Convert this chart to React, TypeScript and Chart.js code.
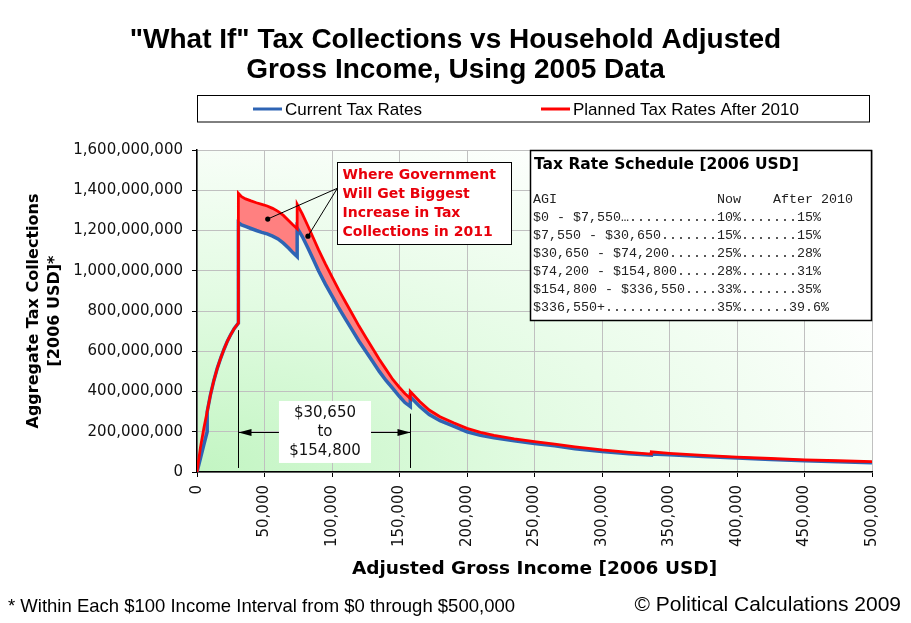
import React, { useEffect, useRef } from 'react';
import { Chart, registerables } from 'chart.js';

Chart.register(...registerables);

// ---------------- DATA ----------------
// Adjusted gross income (2006 USD); repeated values mark bracket jumps
const incomes = [
  0, 2500, 5000, 7550, 7550, 10000, 12500, 15000, 17500, 20000, 22500, 25000, 27500, 30650,
  30650, 33000, 36000, 40000, 44000, 48000, 52000, 56000, 60000, 64000, 68000, 71000, 74200,
  74200, 78000, 82000, 86000, 90000, 95000, 100000, 105000, 110000, 115000, 120000, 125000,
  130000, 135000, 140000, 145000, 150000, 154000, 158000,
  158000, 165000, 172000, 180000, 190000, 200000, 210000, 220000, 235000, 250000, 265000,
  280000, 300000, 320000, 336550,
  336550, 350000, 375000, 400000, 425000, 450000, 475000, 500000,
];

// Aggregate tax collections, millions of 2006 USD
const currentTaxRates = [
  0, 67, 134, 200, 300, 385, 455, 515, 565, 610, 650, 683, 712, 740,
  1239, 1228, 1220, 1210, 1200, 1191, 1183, 1172, 1158, 1137, 1112, 1090, 1070,
  1212, 1170, 1115, 1058, 1000, 935, 875, 815, 760, 705, 650, 600,
  550, 500, 455, 415, 375, 345, 325,
  374, 325, 285, 255, 228, 200, 182, 170, 155, 142, 130,
  116, 102, 91, 84,
  90, 86, 77, 69, 62, 56, 51, 46,
];

const plannedTaxRates = [
  0, 120, 215, 300, 300, 385, 455, 515, 565, 610, 650, 683, 712, 740,
  1385, 1368, 1357, 1347, 1338, 1330, 1322, 1310, 1295, 1275, 1248, 1228, 1208,
  1330, 1283, 1225, 1165, 1105, 1035, 970, 905, 845, 785, 725, 670,
  615, 560, 510, 460, 420, 390, 365,
  400, 350, 308, 275, 245, 217, 197, 182, 165, 151, 138,
  125, 110, 98, 89,
  100, 93, 83, 74, 67, 60, 56, 52,
];

const xTickValues = [0, 50000, 100000, 150000, 200000, 250000, 300000, 350000, 400000, 450000, 500000];
const yTickValues = [0, 200e6, 400e6, 600e6, 800e6, 1000e6, 1200e6, 1400e6, 1600e6];

const seriesLabels = ['Current Tax Rates', 'Planned Tax Rates After 2010'];
const titleLines = ['"What If" Tax Collections vs Household Adjusted', 'Gross Income, Using 2005 Data'];
const yTitleLines = ['Aggregate Tax Collections', '[2006 USD]*'];
const xTitle = 'Adjusted Gross Income [2006 USD]';
const footNote = '* Within Each $100 Income Interval from $0 through $500,000';
const credit = '\u00A9 Political Calculations 2009';

const calloutLines = ['Where Government', 'Will Get Biggest', 'Increase in Tax', 'Collections in 2011'];
const rangeLabelLines = ['$30,650', 'to', '$154,800'];
const scheduleTitle = 'Tax Rate Schedule [2006 USD]';
const scheduleHeader = ['AGI', 'Now    After 2010'];
const scheduleRows = [
  ['$0 - $7,550\u2026', '10%.......15%'],
  ['$7,550 - $30,650', '15%.......15%'],
  ['$30,650 - $74,200', '25%.......28%'],
  ['$74,200 - $154,800', '28%.......31%'],
  ['$154,800 - $336,550', '33%.......35%'],
  ['$336,550+', '35%......39.6%'],
];

// annotation anchors (data coordinates)
const calloutBox = { x0: 104000, x1: 232500, yTop: 1542e6, yBottom: 1131e6 };
const calloutAnchor = { x: 104000, y: 1410e6 };
const calloutDots = [
  { x: 52400, y: 1257e6 },
  { x: 82200, y: 1172e6 },
];
const rangeLeft = { x: 30650, yLow: 20e6, yHigh: 705e6 };
const rangeRight = { x: 158000, yLow: 20e6, yHigh: 290e6 };
const rangeArrowLevel = 200e6;
const rangeBox = { x0: 60700, x1: 128900, yTop: 353e6, yBottom: 45e6 };
const scheduleBox = { x0: 246800, yBottom: 755e6 };

const BLUE = '#2E64B4';
const RED = '#FF0000';
const fmt = (v: number) => Math.round(v).toLocaleString('en-US');

const decorPlugin = {
  id: 'decor',
  beforeDraw(chart: any) {
    const { ctx, chartArea: a } = chart;
    ctx.save();
    ctx.fillStyle = '#ffffff';
    ctx.fillRect(0, 0, chart.width, chart.height);
    ctx.translate(a.left, a.bottom);
    ctx.scale(1, 0.5);
    const g = ctx.createRadialGradient(0, 0, 0, 0, 0, 760);
    g.addColorStop(0, '#c2f5c2');
    g.addColorStop(0.45, '#e2fbe2');
    g.addColorStop(1, '#ffffff');
    ctx.fillStyle = g;
    ctx.fillRect(0, -a.height * 2, a.width, a.height * 2);
    ctx.restore();
  },
  afterDraw(chart: any) {
    const { ctx, chartArea: a } = chart;
    const xs = chart.scales.x;
    const ys = chart.scales.y;
    const px = (v: number) => xs.getPixelForValue(v);
    const py = (v: number) => ys.getPixelForValue(v);
    const W = chart.width;
    ctx.save();

    // Title
    ctx.fillStyle = '#000';
    ctx.textAlign = 'center';
    ctx.textBaseline = 'alphabetic';
    ctx.font = 'bold 28px "Liberation Sans", Arial, sans-serif';
    ctx.fillText(titleLines[0], W / 2, 48);
    ctx.fillText(titleLines[1], W / 2, 78);

    // Legend
    ctx.fillStyle = '#fff';
    ctx.fillRect(197.5, 95.5, 672, 26.5);
    ctx.strokeStyle = '#000';
    ctx.lineWidth = 1;
    ctx.strokeRect(197.5, 95.5, 672, 26.5);
    ctx.lineWidth = 3;
    ctx.strokeStyle = BLUE;
    ctx.beginPath(); ctx.moveTo(253, 109); ctx.lineTo(282, 109); ctx.stroke();
    ctx.strokeStyle = RED;
    ctx.beginPath(); ctx.moveTo(541, 109); ctx.lineTo(570, 109); ctx.stroke();
    ctx.fillStyle = '#000';
    ctx.textAlign = 'left';
    ctx.font = '17px "Liberation Sans", Arial, sans-serif';
    ctx.fillText(seriesLabels[0], 285, 115);
    ctx.fillText(seriesLabels[1], 573, 115);

    // Axis titles
    ctx.font = 'bold 16px "DejaVu Sans", Verdana, sans-serif';
    ctx.textAlign = 'center';
    ctx.textBaseline = 'middle';
    const yc = (a.top + a.bottom) / 2;
    ctx.save();
    ctx.translate(34, yc);
    ctx.rotate(-Math.PI / 2);
    ctx.fillText(yTitleLines[0], 0, 0);
    ctx.restore();
    ctx.save();
    ctx.translate(55, yc);
    ctx.rotate(-Math.PI / 2);
    ctx.fillText(yTitleLines[1], 0, 0);
    ctx.restore();
    ctx.font = 'bold 18.5px "DejaVu Sans", Verdana, sans-serif';
    ctx.fillText(xTitle, (a.left + a.right) / 2, 569);

    // Footer
    ctx.textAlign = 'left';
    ctx.textBaseline = 'alphabetic';
    ctx.font = '18.5px "Liberation Sans", Arial, sans-serif';
    ctx.fillText(footNote, 8, 612);
    ctx.font = '21px "Liberation Sans", Arial, sans-serif';
    ctx.textAlign = 'right';
    ctx.fillText(credit, 901, 611);

    // Range markers
    ctx.strokeStyle = '#000';
    ctx.fillStyle = '#000';
    ctx.lineWidth = 1;
    const xl = Math.round(px(rangeLeft.x)) + 0.5;
    const xr = Math.round(px(rangeRight.x)) + 0.5;
    ctx.beginPath();
    ctx.moveTo(xl, py(rangeLeft.yLow)); ctx.lineTo(xl, py(rangeLeft.yHigh));
    ctx.moveTo(xr, py(rangeRight.yLow)); ctx.lineTo(xr, py(rangeRight.yHigh));
    const ya = Math.round(py(rangeArrowLevel)) + 0.5;
    ctx.moveTo(xl, ya); ctx.lineTo(xr, ya);
    ctx.stroke();
    ctx.beginPath();
    ctx.moveTo(xl, ya); ctx.lineTo(xl + 13, ya - 3.5); ctx.lineTo(xl + 13, ya + 3.5); ctx.closePath();
    ctx.moveTo(xr, ya); ctx.lineTo(xr - 13, ya - 3.5); ctx.lineTo(xr - 13, ya + 3.5); ctx.closePath();
    ctx.fill();
    // Range label box
    const rx0 = px(rangeBox.x0), rx1 = px(rangeBox.x1);
    const ry0 = py(rangeBox.yTop), ry1 = py(rangeBox.yBottom);
    ctx.fillStyle = '#fff';
    ctx.fillRect(rx0, ry0, rx1 - rx0, ry1 - ry0);
    ctx.fillStyle = '#111';
    ctx.font = '15px "DejaVu Sans", Verdana, sans-serif';
    ctx.textAlign = 'center';
    ctx.textBaseline = 'middle';
    const rcx = (rx0 + rx1) / 2;
    ctx.fillText(rangeLabelLines[0], rcx, ry0 + 12);
    ctx.fillText(rangeLabelLines[1], rcx, ry0 + 31.5);
    ctx.fillText(rangeLabelLines[2], rcx, ry0 + 50);

    // Callout
    const cax = px(calloutAnchor.x), cay = py(calloutAnchor.y);
    ctx.strokeStyle = '#000';
    ctx.fillStyle = '#000';
    ctx.lineWidth = 1;
    ctx.beginPath();
    for (const d of calloutDots) {
      ctx.moveTo(cax, cay);
      ctx.lineTo(px(d.x), py(d.y));
    }
    ctx.stroke();
    for (const d of calloutDots) {
      ctx.beginPath();
      ctx.arc(px(d.x), py(d.y), 2.6, 0, Math.PI * 2);
      ctx.fill();
    }
    const bx0 = Math.round(px(calloutBox.x0)) + 0.5, bx1 = Math.round(px(calloutBox.x1)) + 0.5;
    const by0 = Math.round(py(calloutBox.yTop)) + 0.5, by1 = Math.round(py(calloutBox.yBottom)) + 0.5;
    ctx.fillStyle = '#fff';
    ctx.fillRect(bx0, by0, bx1 - bx0, by1 - by0);
    ctx.strokeRect(bx0, by0, bx1 - bx0, by1 - by0);
    ctx.fillStyle = '#E8000B';
    ctx.font = 'bold 14px "DejaVu Sans", Verdana, sans-serif';
    ctx.textAlign = 'left';
    ctx.textBaseline = 'middle';
    calloutLines.forEach((t, i) => ctx.fillText(t, bx0 + 5, by0 + 13 + i * 19.1));

    // Schedule table
    const tx0 = Math.round(px(scheduleBox.x0)) + 0.5;
    const ty1 = Math.round(py(scheduleBox.yBottom)) + 0.5;
    const ty0 = a.top + 0.5;
    const tx1 = a.right - 0.5;
    ctx.fillStyle = '#fff';
    ctx.fillRect(tx0, ty0, tx1 - tx0, ty1 - ty0);
    ctx.strokeStyle = '#000';
    ctx.lineWidth = 1.5;
    ctx.strokeRect(tx0, ty0, tx1 - tx0, ty1 - ty0);
    ctx.fillStyle = '#000';
    ctx.font = 'bold 15.5px "DejaVu Sans", Verdana, sans-serif';
    ctx.fillText(scheduleTitle, tx0 + 3.5, ty0 + 14.5);
    ctx.fillStyle = '#222';
    ctx.font = '13.33px "Liberation Mono", "Courier New", monospace';
    const mx = tx0 + 2.5;
    ctx.fillText(scheduleHeader[0].padEnd(23, ' ') + scheduleHeader[1], mx, ty0 + 49);
    scheduleRows.forEach((r, i) => {
      ctx.fillText(r[0].padEnd(23, '.') + r[1], mx, ty0 + 67 + i * 18.05);
    });

    ctx.restore();
  },
};

export default function App() {
  const canvasRef = useRef<HTMLCanvasElement | null>(null);

  useEffect(() => {
    const canvas = canvasRef.current;
    if (!canvas) return;
    const blueData = incomes.map((x, i) => ({ x, y: currentTaxRates[i] * 1e6 }));
    const redData = incomes.map((x, i) => ({ x, y: plannedTaxRates[i] * 1e6 }));

    const chart = new Chart(canvas, {
      type: 'line',
      data: {
        datasets: [
          {
            label: seriesLabels[0],
            data: blueData,
            borderColor: BLUE,
            backgroundColor: BLUE,
            borderWidth: 3.5,
            pointRadius: 0,
            fill: false,
            order: 1,
            tension: 0,
          },
          {
            label: seriesLabels[1],
            data: redData,
            borderColor: RED,
            backgroundColor: '#FF8080',
            borderWidth: 2.8,
            pointRadius: 0,
            fill: { target: 0, above: '#FF8080', below: '#FF8080' },
            order: 0,
            tension: 0,
          },
        ],
      },
      options: {
        responsive: false,
        animation: false,
        devicePixelRatio: 1,
        events: [],
        layout: { padding: { top: 150, right: 39, left: 0, bottom: 0 } },
        plugins: {
          legend: { display: false },
          title: { display: false },
          tooltip: { enabled: false },
          filler: { drawTime: 'beforeDatasetsDraw', propagate: false },
        } as any,
        scales: {
          x: {
            type: 'linear',
            min: 0,
            max: 500000,
            afterBuildTicks: (s: any) => {
              s.ticks = xTickValues.map((v) => ({ value: v }));
            },
            afterFit: (s: any) => {
              s.height = 151;
            },
            grid: { color: '#C0C0C0', lineWidth: 1, tickColor: '#000', tickLength: 5 },
            border: { color: '#000', width: 1.5 },
            ticks: {
              autoSkip: false,
              minRotation: 90,
              maxRotation: 90,
              padding: 8,
              color: '#111',
              font: { family: '"DejaVu Sans", Verdana, sans-serif', size: 15 },
              callback: (v: any) => fmt(Number(v)),
            },
          },
          y: {
            type: 'linear',
            min: 0,
            max: 1600e6,
            afterBuildTicks: (s: any) => {
              s.ticks = yTickValues.map((v) => ({ value: v }));
            },
            afterFit: (s: any) => {
              s.width = 197;
            },
            grid: { color: '#C0C0C0', lineWidth: 1, tickColor: '#000', tickLength: 5 },
            border: { color: '#000', width: 1.5 },
            ticks: {
              padding: 9,
              color: '#111',
              font: { family: '"DejaVu Sans", Verdana, sans-serif', size: 15 },
              callback: (v: any) => fmt(Number(v)),
            },
          },
        },
      },
      plugins: [decorPlugin],
    } as any);

    return () => chart.destroy();
  }, []);

  return (
    <div style={{ position: 'absolute', left: 0, top: 0, width: 911, height: 623, background: '#fff' }}>
      <canvas ref={canvasRef} width={911} height={623} style={{ display: 'block' }} />
    </div>
  );
}
